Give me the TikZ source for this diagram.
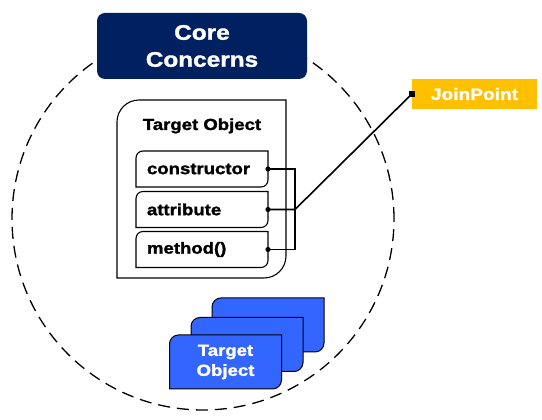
\documentclass[tikz,border=0pt]{standalone}
\usepackage{fontspec}
\setmainfont{Liberation Sans}[FakeStretch=1.16, BoldFeatures={FakeBold=1.6}]
\definecolor{navy}{HTML}{002060}
\definecolor{gold}{HTML}{FFC000}
\definecolor{tblue}{HTML}{3366FF}
\newcommand\cornerbox[3]{\path[#3] (#1.south west) -- ([yshift=-#2]#1.north west) arc[start angle=180,end angle=90,radius=#2] -- (#1.north east) -- ([yshift=#2]#1.south east) arc[start angle=0,end angle=-90,radius=#2] -- cycle;}
\begin{document}
\begin{tikzpicture}[x=1pt,y=1pt,
  shell/.style={inner sep=0pt, outer sep=0pt, draw=none},
  member/.style={shell, text width=110pt, inner xsep=11pt, minimum height=36pt, align=left, font=\fontsize{16}{17}\selectfont\bfseries},
  stackbox/.style={shell, minimum width=112pt, minimum height=54pt},
  conn/.style={line width=1.6pt},
  outl/.style={draw=black, line width=1.1pt}]
\useasboundingbox (0,0) rectangle (542,420);
% dashed circle
\node[circle, draw, line width=1.3pt, dash pattern=on 12pt off 7pt, minimum size=382pt, inner sep=0pt] (cc) at (203,201) {};
% core concerns box
\node[fill=navy, rounded corners=8pt, minimum width=210pt, minimum height=66pt, text=white, align=center, font=\fontsize{21}{27}\selectfont\bfseries] (core) at (202,374) {Core\\Concerns};
% target object container
\node[shell, minimum width=169pt, minimum height=178pt] (obj) at (201.5,231) {};
\cornerbox{obj}{22pt}{draw, fill=white, line width=1.1pt}
\node[anchor=base, font=\fontsize{16}{17}\selectfont\bfseries] (title) at (202,290) {Target Object};
% members
\node[member] (c1) at (202,251) {constructor};
\node[member] (c2) at (202,210.5) {attribute};
\node[member] (c3) at (202,170.5) {method()};
\cornerbox{c1}{7pt}{outl}
\cornerbox{c2}{7pt}{outl}
\cornerbox{c3}{7pt}{outl}
% join point
\node[fill=gold, minimum width=125pt, minimum height=30pt, inner sep=0pt, text=white, font=\fontsize{16.5}{19}\selectfont\bfseries] (jp) at (474.5,326) {JoinPoint};
% connectors
\coordinate (brk) at (295,210.5);
\draw[conn] (c1.east) -- (c1.east -| brk) -- (c3.east -| brk) -- (c3.east);
\draw[conn] (c2.east) -- (c2.east -| brk) -- (jp.west);
\foreach \n in {c1,c2,c3} \fill (\n.east) circle (2.6pt);
\fill ([xshift=-3pt,yshift=-3pt]jp.west) rectangle ([xshift=3pt,yshift=3pt]jp.west);
% stack
\node[stackbox] (s3) at (268,95) {};
\node[stackbox] (s2) at (247,75.5) {};
\node[stackbox] (s1) at (225.5,58) {};
\cornerbox{s3}{9pt}{draw, fill=tblue, line width=1pt}
\cornerbox{s2}{9pt}{draw, fill=tblue, line width=1pt}
\cornerbox{s1}{9pt}{draw, fill=tblue, line width=1pt}
\node[text=white, align=center, font=\fontsize{16}{20}\selectfont\bfseries] (s1t) at (s1.center) {Target\\Object};
\end{tikzpicture}
\end{document}
